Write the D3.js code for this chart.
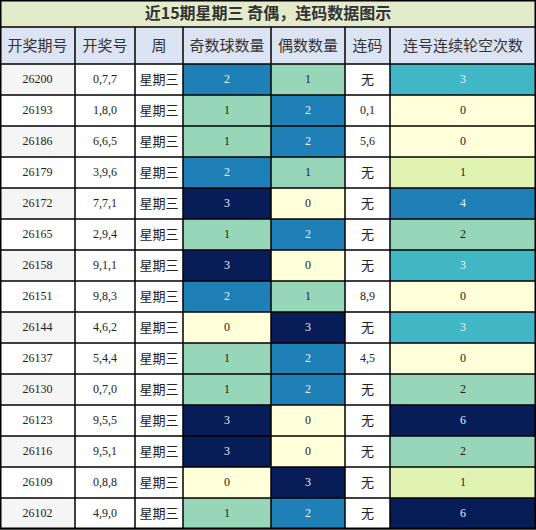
<!DOCTYPE html>
<html><head><meta charset="utf-8">
<script src="https://cdn.jsdelivr.net/npm/d3@7"></script>
<style>body{margin:0;background:#fff}</style>
</head><body>
<svg id="chart" width="536" height="530"></svg>
<script>
var TITLE = '近15期星期三 奇偶，连码数据图示';
var HEADERS = ['开奖期号', '开奖号', '周', '奇数球数量', '偶数数量', '连码', '连号连续轮空次数'];
var ISSUES = ['26200','26193','26186','26179','26172','26165','26158','26151','26144','26137','26130','26123','26116','26109','26102'];
var NUMBERS = ['0,7,7','1,8,0','6,6,5','3,9,6','7,7,1','2,9,4','9,1,1','9,8,3','4,6,2','5,4,4','0,7,0','9,5,5','9,5,1','0,8,8','4,9,0'];
var ODD = [2,1,1,2,3,1,3,2,0,1,1,3,3,0,1];
var EVEN = [1,2,2,1,0,2,0,1,3,2,2,0,0,3,2];
var LIANMA = ['无','0,1','5,6','无','无','无','无','8,9','无','4,5','无','无','无','无','无'];
var MISS = [3,0,0,1,4,2,3,0,3,0,2,6,2,1,6];

var colX = [0, 75, 135, 183, 271, 345, 390, 536];
var titleH = 27, headH = 37, rowH = 31;
var svg = d3.select('#chart');
var cjk = '"Noto Sans CJK SC", sans-serif';
var num = '"Liberation Serif", serif';

var oddColor = d3.scaleOrdinal().domain([0,1,2,3]).range(['#ffffd9','#97d6b9','#1f80b8','#081d58']);
var missColor = d3.scaleOrdinal().domain([0,1,2,3,4,5,6]).range(['#ffffd9','#e0f3b2','#97d6b9','#41b6c4','#1f80b8','#225ea8','#081d58']);
var txtColor = function(c){ return d3.hsl(c).l < 0.6 ? '#e8f0f8' : '#222'; };

svg.append('rect').attr('width',536).attr('height',titleH).attr('fill','#e3ebcb');
svg.append('text').attr('x',268).attr('y',titleH/2+1).attr('text-anchor','middle').attr('dominant-baseline','middle')
	.attr('font-family',cjk).attr('font-weight','bold').attr('font-size',16).attr('fill','#333').text(TITLE);

HEADERS.forEach(function(h, i) {
	svg.append('rect').attr('x',colX[i]).attr('y',titleH).attr('width',colX[i+1]-colX[i]).attr('height',headH).attr('fill','#dce3f3');
	svg.append('text').attr('x',(colX[i]+colX[i+1])/2).attr('y',titleH+headH/2+1).attr('text-anchor','middle')
		.attr('dominant-baseline','middle').attr('font-family',cjk).attr('font-size',15).attr('fill','#333').text(h);
});

var y = d3.scaleBand().domain(d3.range(ISSUES.length)).range([titleH+headH, titleH+headH+rowH*ISSUES.length]);

ISSUES.forEach(function(issue, r) {
	var cells = [
		{t: issue, bg: r % 2 ? '#ffffff' : '#f5f5f5', f: num},
		{t: NUMBERS[r], bg: '#fff', f: num},
		{t: '星期三', bg: '#fff', f: cjk},
		{t: ODD[r], bg: oddColor(ODD[r]), f: num},
		{t: EVEN[r], bg: oddColor(EVEN[r]), f: num},
		{t: LIANMA[r], bg: '#fff', f: LIANMA[r] === '无' ? cjk : num},
		{t: MISS[r], bg: missColor(MISS[r]), f: num}
	];
	cells.forEach(function(c, i) {
		svg.append('rect').attr('x',colX[i]).attr('y',y(r)).attr('width',colX[i+1]-colX[i]).attr('height',y.bandwidth()).attr('fill',c.bg);
		svg.append('text').attr('x',(colX[i]+colX[i+1])/2).attr('y',y(r)+y.bandwidth()/2+1).attr('text-anchor','middle')
			.attr('dominant-baseline','middle').attr('font-family',c.f).attr('font-size',c.f === cjk ? 13 : 12)
			.attr('fill',txtColor(c.bg)).text(c.t);
	});
});

// grid lines
var bottom = y.range()[1];
colX.forEach(function(x) {
	svg.append('line').attr('x1',x).attr('x2',x).attr('y1',titleH).attr('y2',bottom).attr('stroke','#000').attr('stroke-width',1.5);
});
[0, titleH, titleH+headH].concat(d3.range(ISSUES.length).map(function(r){ return y(r)+rowH; })).forEach(function(yy) {
	svg.append('line').attr('x1',0).attr('x2',536).attr('y1',yy).attr('y2',yy).attr('stroke','#000').attr('stroke-width',1.5);
});
svg.append('rect').attr('x',0.75).attr('y',0.75).attr('width',534.5).attr('height',bottom-1.5).attr('fill','none').attr('stroke','#000').attr('stroke-width',1.5);
</script>
</body></html>
